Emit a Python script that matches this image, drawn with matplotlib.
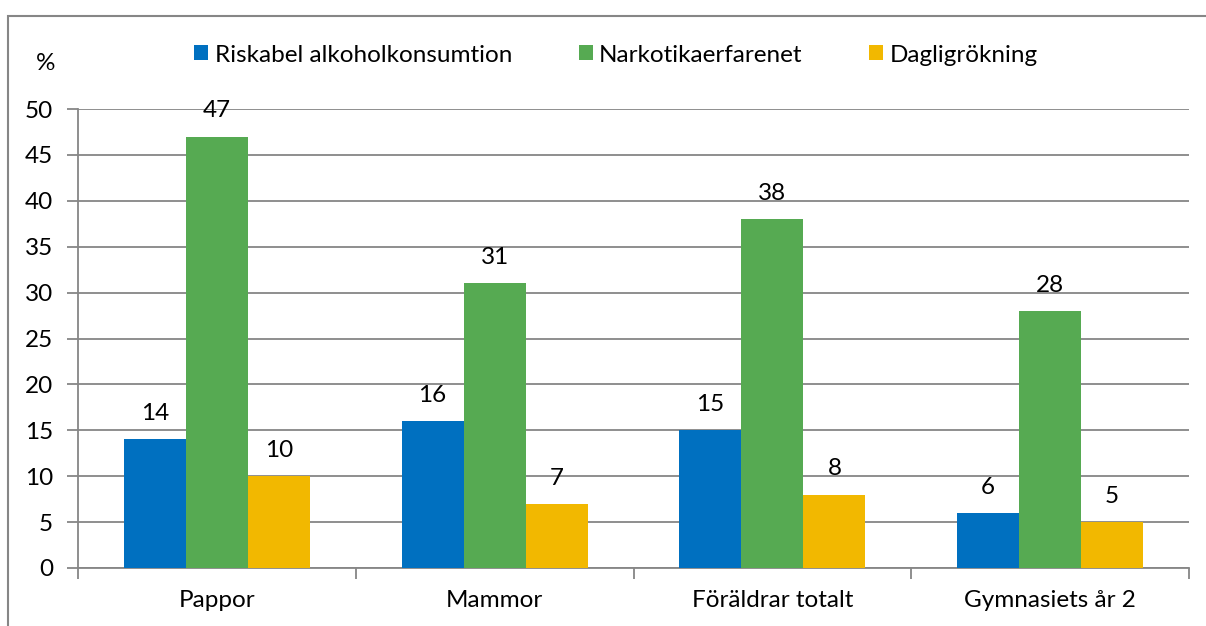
import matplotlib.pyplot as plt
import numpy as np
from matplotlib.patches import Rectangle

categories = ["Pappor", "Mammor", "Föräldrar totalt", "Gymnasiets år 2"]
series_names = ["Riskabel alkoholkonsumtion", "Narkotikaerfarenet", "Dagligrökning"]
riskabel = [14, 16, 15, 6]
narkotika = [47, 31, 38, 28]
daglig = [10, 7, 8, 5]
yticks = list(range(0, 55, 5))

colors = ["#0070C0", "#56AA52", "#F2B800"]
grid_color = "#868686"
fs = 17.5

plt.rcParams["font.family"] = ["Lato", "DejaVu Sans"]

fig = plt.figure(figsize=(12.06, 6.26), dpi=100)
ax = fig.add_axes([78 / 1206, 1 - 568 / 626, (1189 - 78) / 1206, (568 - 109) / 626])

# outer chart frame
fig.patches.append(Rectangle((8 / 1206, -0.01), 1.02, 1 - 16 / 626 + 0.01,
                             transform=fig.transFigure, fill=False,
                             edgecolor=grid_color, linewidth=1.5))

x = np.arange(len(categories))
w = 0.67 / 3
for i, (vals, name) in enumerate(zip([riskabel, narkotika, daglig], series_names)):
    pos = x + (i - 1) * w
    ax.bar(pos, vals, width=w, color=colors[i], label=name, zorder=3)
    for p, v in zip(pos, vals):
        ax.text(p, v + 2.8, str(v), ha="center", va="center", fontsize=fs)

ax.set_xlim(-0.5, len(categories) - 0.5)
ax.set_ylim(0, 50)
ax.set_yticks(yticks)
ax.set_yticklabels([str(t) for t in yticks], fontsize=fs)
ax.yaxis.grid(True, color=grid_color, linewidth=1.3, zorder=0)
ax.tick_params(axis="y", length=8, color=grid_color, width=1.3, pad=10)

ax.set_xticks(x)
ax.set_xticklabels(categories, fontsize=fs)
ax.tick_params(axis="x", length=0, pad=16)
ax.set_xticks(np.arange(-0.5, len(categories)), minor=True)
ax.tick_params(axis="x", which="minor", length=8, color=grid_color, width=1.3)

for s in ["top", "right"]:
    ax.spines[s].set_visible(False)
for s in ["left", "bottom"]:
    ax.spines[s].set_color(grid_color)
    ax.spines[s].set_linewidth(1.3)

fig.text(46 / 1206, 1 - 64 / 626, "%", ha="center", va="center", fontsize=fs)

ax.legend(loc="center", bbox_to_anchor=(616 / 1206, 1 - 55 / 626),
          bbox_transform=fig.transFigure, ncol=3, frameon=False, fontsize=fs,
          handlelength=0.58, handleheight=0.58, handletextpad=0.25, columnspacing=2.75)

fig.savefig("out.png", dpi=100)
